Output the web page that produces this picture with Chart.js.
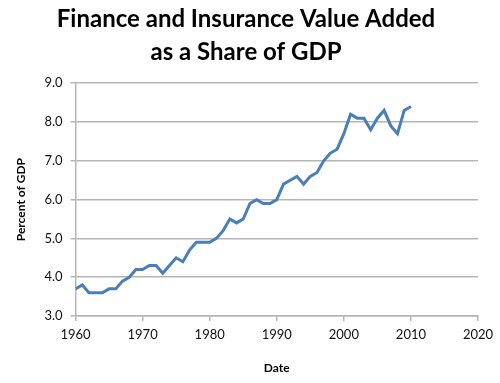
<!DOCTYPE html>
<html>
<head>
<meta charset="utf-8">
<script src="https://cdn.jsdelivr.net/npm/chart.js@4"></script>
<style>
  html, body { margin: 0; padding: 0; background: #fff; }
  #wrap { width: 500px; height: 383px; }
</style>
</head>
<body>
<div id="wrap"><canvas id="myChart" width="500" height="383"></canvas></div>
<script>
const years = [1960, 1961, 1962, 1963, 1964, 1965, 1966, 1967, 1968, 1969,
  1970, 1971, 1972, 1973, 1974, 1975, 1976, 1977, 1978, 1979,
  1980, 1981, 1982, 1983, 1984, 1985, 1986, 1987, 1988, 1989,
  1990, 1991, 1992, 1993, 1994, 1995, 1996, 1997, 1998, 1999,
  2000, 2001, 2002, 2003, 2004, 2005, 2006, 2007, 2008, 2009, 2010];
const shareOfGdp = [3.7, 3.8, 3.6, 3.6, 3.6, 3.7, 3.7, 3.9, 4.0, 4.2,
  4.2, 4.3, 4.3, 4.1, 4.3, 4.5, 4.4, 4.7, 4.9, 4.9,
  4.9, 5.0, 5.2, 5.5, 5.4, 5.5, 5.9, 6.0, 5.9, 5.9,
  6.0, 6.4, 6.5, 6.6, 6.4, 6.6, 6.7, 7.0, 7.2, 7.3,
  7.7, 8.2, 8.1, 8.1, 7.8, 8.1, 8.3, 7.9, 7.7, 8.3, 8.4];
const titleLines = ['Finance and Insurance Value Added', 'as a Share of GDP'];

const fontFam = 'Lato, "Open Sans", sans-serif';
const axisGray = '#b5b5b5';

const ctx = document.getElementById('myChart');
const myChart = new Chart(ctx, {
  type: 'line',
  data: {
    datasets: [{
      data: years.map((y, i) => ({ x: y, y: shareOfGdp[i] })),
      borderColor: 'rgb(74, 126, 187)',
      borderWidth: 3,
      pointRadius: 0,
      tension: 0,
      fill: false
    }]
  },
  options: {
    responsive: false,
    animation: false,
    layout: { padding: { left: 14, right: 22, top: 3, bottom: 8 } },
    plugins: {
      legend: { display: false },
      tooltip: { enabled: false },
      title: {
        display: true,
        text: titleLines,
        color: '#000',
        font: { family: fontFam, size: 24, weight: 'bold', lineHeight: 1.38 },
        padding: { top: 0, bottom: 14 }
      }
    },
    scales: {
      x: {
        type: 'linear',
        min: 1960,
        max: 2020,
        grid: { drawOnChartArea: false, drawTicks: true, tickLength: 5, color: axisGray, lineWidth: 1.5 },
        border: { color: axisGray, width: 1.5 },
        ticks: {
          stepSize: 10,
          color: '#111',
          font: { family: fontFam, size: 13 },
          padding: 6,
          maxRotation: 0,
          callback: v => String(v)
        },
        title: {
          display: true,
          text: 'Date',
          color: '#000',
          font: { family: fontFam, size: 12, weight: 'bold' },
          padding: { top: 12, bottom: 0 }
        }
      },
      y: {
        min: 3,
        max: 9,
        grid: { color: axisGray, lineWidth: 1.5, tickLength: 5 },
        border: { color: axisGray, width: 1.5 },
        ticks: {
          stepSize: 1,
          color: '#111',
          font: { family: fontFam, size: 13 },
          padding: 8,
          callback: v => v.toFixed(1)
        },
        title: {
          display: true,
          text: 'Percent of GDP',
          color: '#000',
          font: { family: fontFam, size: 12, weight: 'bold' },
          padding: { top: 0, bottom: 8 }
        }
      }
    }
  }
});
</script>
</body>
</html>
